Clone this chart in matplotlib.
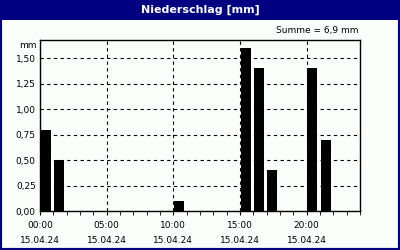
import matplotlib.pyplot as plt
from matplotlib.patches import Rectangle
from matplotlib.ticker import FuncFormatter, MultipleLocator

# Niederschlag pro Stunde am 15.04.24 (mm)
stunden = list(range(24))
niederschlag = [0.8, 0.5, 0, 0, 0, 0, 0, 0, 0, 0, 0.1, 0, 0, 0, 0,
                1.6, 1.4, 0.4, 0, 0, 1.4, 0.7, 0, 0]
tick_stunden = [0, 5, 10, 15, 20]
tick_labels = ['00:00\n15.04.24', '05:00\n15.04.24', '10:00\n15.04.24',
               '15:00\n15.04.24', '20:00\n15.04.24']

navy = '#000080'
fig = plt.figure(figsize=(4, 2.5), dpi=100, facecolor='#fbfffb')

# Rahmen und Titelleiste
fig.patches.append(Rectangle((0, 0), 1, 1, transform=fig.transFigure,
                             fill=False, edgecolor=navy, linewidth=3))
fig.patches.append(Rectangle((0, 1 - 20 / 250), 1, 20 / 250, transform=fig.transFigure,
                             facecolor=navy, edgecolor='none'))
fig.text(0.5, 1 - 10 / 250, 'Niederschlag [mm]', color='white', fontsize=8,
         fontweight='bold', ha='center', va='center')

ax = fig.add_axes([40 / 400, 39 / 250, 320 / 400, 171 / 250])
ax.set_facecolor('#fbfffb')
ax.bar([h + 0.05 for h in stunden], niederschlag, width=0.75, align='edge',
       color='black', zorder=3)

ax.set_xlim(0, 24)
ax.set_ylim(0, 1.68)
ax.set_xticks(tick_stunden)
ax.set_xticklabels(tick_labels, fontsize=6.5, linespacing=1.9)
ax.xaxis.set_minor_locator(MultipleLocator(1))
ax.yaxis.set_major_locator(MultipleLocator(0.25))
ax.yaxis.set_major_formatter(FuncFormatter(lambda v, p: f'{v:.2f}'.replace('.', ',')))
ax.tick_params(axis='y', labelsize=6.5, length=0, pad=3)
ax.tick_params(axis='x', which='major', length=3, pad=4, direction='out')
ax.tick_params(axis='x', which='minor', length=3, direction='out')
ax.grid(True, color='black', linestyle=(0, (3, 3)), linewidth=0.8, zorder=1)
for s in ax.spines.values():
    s.set_linewidth(1)
    s.set_zorder(4)

ax.text(-0.01, 1.63, 'mm', transform=ax.get_yaxis_transform(), fontsize=6.5,
        ha='right', va='center')
fig.text(317 / 400, 1 - 31 / 250, 'Summe = 6,9 mm', fontsize=6.5,
         ha='center', va='center')

fig.savefig('out.png', dpi=100, facecolor=fig.get_facecolor())
